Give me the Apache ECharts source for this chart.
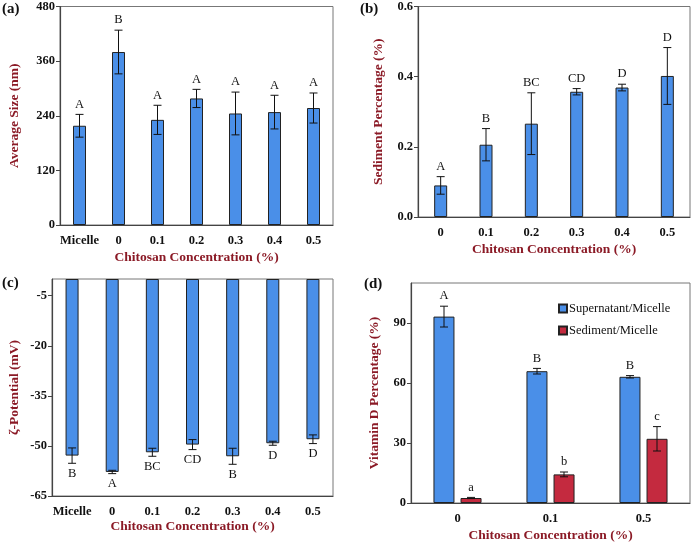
<!DOCTYPE html>
<html>
<head>
<meta charset="utf-8">
<script src="https://cdn.jsdelivr.net/npm/echarts@6/dist/echarts.min.js"></script>
<style>html,body{margin:0;padding:0;background:#fff}#c{width:694px;height:545px}</style>
</head>
<body>
<div id="c"></div>
<script>
// ---- data ----
const catsA = ['Micelle', '0', '0.1', '0.2', '0.3', '0.4', '0.5'];
const sizeA = [218, 380, 231, 278, 245, 248, 257];
const sizeErrA = [25, 48, 32, 20, 47, 37, 33];
const lettersA = ['A', 'B', 'A', 'A', 'A', 'A', 'A'];
const ticksA = [0, 120, 240, 360, 480];

const catsB = ['0', '0.1', '0.2', '0.3', '0.4', '0.5'];
const sedB = [0.090, 0.206, 0.266, 0.357, 0.369, 0.402];
const sedErrB = [0.025, 0.046, 0.088, 0.009, 0.0095, 0.081];
const lettersB = ['A', 'B', 'BC', 'CD', 'D', 'D'];
const ticksB = [0.0, 0.2, 0.4, 0.6];

const catsC = ['Micelle', '0', '0.1', '0.2', '0.3', '0.4', '0.5'];
const zetaC = [-52.9, -57.8, -51.9, -49.6, -53.1, -49.2, -48.0];
const zetaErrC = [2.3, 0.5, 1.2, 1.5, 2.4, 0.6, 1.3];
const lettersC = ['B', 'A', 'BC', 'CD', 'B', 'D', 'D'];
const ticksC = [-65, -50, -35, -20, -5];

const catsD = ['0', '0.1', '0.5'];
const supD = [93.2, 65.9, 63.1];
const supErrD = [5.2, 1.4, 0.6];
const lettersSupD = ['A', 'B', 'B'];
const sedD = [2.5, 14.3, 32.1];
const sedErrD = [0.3, 1.2, 6.1];
const lettersSedD = ['a', 'b', 'c'];
const ticksD = [0, 30, 60, 90];

// ---- styling ----
const FONT = '"Liberation Serif", "Times New Roman", serif';
const BLUE = '#4a8fe8';
const RED = '#c42a3f';
const TITLE = '#8b1a26';
const AX = '#444';

function errSeries(xi, yi, vals, errs, letters, offset, below) {
  return {
    type: 'custom', xAxisIndex: xi, yAxisIndex: yi, z: 10,
    data: vals.map((v, i) => [i, v, errs[i]]),
    renderItem: function (params, api) {
      const i = api.value(0), v = api.value(1), e = api.value(2);
      const t = api.coord([i, v + e]);
      const b = api.coord([i, v - e]);
      const x = t[0] + offset;
      const cw = 4;
      const st = { stroke: '#111', lineWidth: 1 };
      const children = [
        { type: 'line', shape: { x1: x, y1: t[1], x2: x, y2: b[1] }, style: st },
        { type: 'line', shape: { x1: x - cw, y1: t[1], x2: x + cw, y2: t[1] }, style: st },
        { type: 'line', shape: { x1: x - cw, y1: b[1], x2: x + cw, y2: b[1] }, style: st },
        { type: 'text', style: { x: x, y: below ? b[1] + 10 : t[1] - 10, text: letters[params.dataIndex],
          fill: '#111', font: '12.5px ' + FONT, align: 'center', verticalAlign: 'middle' } }
      ];
      return { type: 'group', children: children };
    }
  };
}

function xAx(gi, cats, name, gap) {
  return {
    type: 'category', gridIndex: gi, data: cats, position: 'bottom',
    axisLine: { onZero: false, lineStyle: { color: AX, width: 1.2 } },
    axisTick: { show: false },
    axisLabel: { interval: 0, color: '#111', fontFamily: FONT, fontWeight: 'bold', fontSize: 12.5, margin: 9 },
    name: name, nameLocation: 'middle', nameGap: gap,
    nameTextStyle: { color: TITLE, fontFamily: FONT, fontWeight: 'bold', fontSize: 13.5 },
    splitLine: { show: false }
  };
}
function yAx(gi, min, max, interval, name, gap, fmt) {
  return {
    type: 'value', gridIndex: gi, min: min, max: max, interval: interval,
    axisLine: { show: true, onZero: false, lineStyle: { color: AX, width: 1.2 } },
    axisTick: { show: true, length: 4, lineStyle: { color: AX } },
    axisLabel: { color: '#111', fontFamily: FONT, fontWeight: 'bold', fontSize: 12.5, margin: 5,
      showMaxLabel: !!fmt && fmt.showMax, formatter: fmt && fmt.f },
    splitLine: { show: false },
    name: name, nameLocation: 'middle', nameGap: gap, nameRotate: 90,
    nameTextStyle: { color: TITLE, fontFamily: FONT, fontWeight: 'bold', fontSize: 13.5 }
  };
}

const barStyle = (c) => ({ color: c, borderColor: '#222', borderWidth: 1 });

const option = {
  animation: false,
  backgroundColor: '#fff',
  grid: [
    { left: 60, right: 361, top: 5, bottom: 320, show: true, borderColor: '#777', borderWidth: 1 },
    { left: 418, right: 4, top: 5, bottom: 328, show: true, borderColor: '#777', borderWidth: 1 },
    { left: 52, right: 361, top: 279, bottom: 49, show: true, borderColor: '#777', borderWidth: 1 },
    { left: 411, right: 4, top: 283, bottom: 42, show: true, borderColor: '#777', borderWidth: 1 }
  ],
  xAxis: [
    xAx(0, catsA, 'Chitosan Concentration (%)', 26),
    xAx(1, catsB, 'Chitosan Concentration (%)', 26),
    xAx(2, catsC, 'Chitosan Concentration (%)', 24),
    xAx(3, catsD, 'Chitosan Concentration (%)', 26)
  ],
  yAxis: [
    yAx(0, ticksA[0], ticksA[ticksA.length - 1], 120, 'Average Size (nm)', 38, { showMax: true }),
    yAx(1, ticksB[0], ticksB[ticksB.length - 1], 0.2, 'Sediment Percentage (%)', 32, { showMax: true, f: v => v.toFixed(1) }),
    yAx(2, ticksC[0], 0, 15, 'ζ-Potential (mV)', 30, { showMax: false }),
    yAx(3, ticksD[0], 110, 30, 'Vitamin D Percentage (%)', 29, { showMax: false })
  ],
  legend: {
    orient: 'vertical', left: 553, top: 297, itemWidth: 8, itemHeight: 8, itemGap: 9,
    icon: 'rect',
    textStyle: { fontFamily: FONT, fontSize: 12.5, color: '#111', padding: [0, 0, 0, -3] },
    data: ['Supernatant/Micelle', 'Sediment/Micelle']
  },
  graphic: [
    { type: 'text', left: 2, top: 2, style: { text: '(a)', font: 'bold 15px ' + FONT, fill: '#111' } },
    { type: 'text', left: 360, top: 2, style: { text: '(b)', font: 'bold 15px ' + FONT, fill: '#111' } },
    { type: 'text', left: 2, top: 276, style: { text: '(c)', font: 'bold 15px ' + FONT, fill: '#111' } },
    { type: 'text', left: 364, top: 277, style: { text: '(d)', font: 'bold 15px ' + FONT, fill: '#111' } }
  ],
  series: [
    { type: 'bar', xAxisIndex: 0, yAxisIndex: 0, data: sizeA, barWidth: 13, itemStyle: barStyle(BLUE) },
    errSeries(0, 0, sizeA, sizeErrA, lettersA, 0, false),
    { type: 'bar', xAxisIndex: 1, yAxisIndex: 1, data: sedB, barWidth: 13, itemStyle: barStyle(BLUE) },
    errSeries(1, 1, sedB, sedErrB, lettersB, 0, false),
    { type: 'bar', xAxisIndex: 2, yAxisIndex: 2, data: zetaC, barWidth: 13, itemStyle: barStyle(BLUE) },
    errSeries(2, 2, zetaC, zetaErrC, lettersC, 0, true),
    { type: 'bar', name: 'Supernatant/Micelle', xAxisIndex: 3, yAxisIndex: 3, data: supD, barWidth: 21, barGap: '29%', itemStyle: barStyle(BLUE) },
    { type: 'bar', name: 'Sediment/Micelle', xAxisIndex: 3, yAxisIndex: 3, data: sedD, barWidth: 21, barGap: '29%', itemStyle: barStyle(RED) },
    errSeries(3, 3, supD, supErrD, lettersSupD, -13.5, false),
    errSeries(3, 3, sedD, sedErrD, lettersSedD, 13.5, false)
  ]
};
const chart = echarts.init(document.getElementById('c'), null, { renderer: 'canvas' });
chart.setOption(option);
</script>
</body>
</html>
